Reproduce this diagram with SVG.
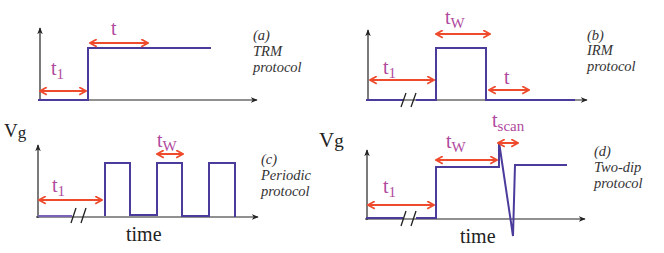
<svg xmlns="http://www.w3.org/2000/svg" width="664" height="253" viewBox="0 0 664 253">
<style>
.ax{stroke:#222;stroke-width:1.2;fill:none}
.sig{stroke:#4b3b9b;stroke-width:2;fill:none;stroke-linejoin:miter}
.sigl{stroke:#7a62b8;stroke-width:2;fill:none}
.arr{stroke:#ee4a2c;stroke-width:2;fill:none;marker-start:url(#ah);marker-end:url(#ah)}
.brk{stroke:#222;stroke-width:1.3;fill:none}
.lbl{font-family:"Liberation Serif",serif;font-size:20px;fill:#b04a9e}
.sub{font-size:15px}
.cap{font-family:"Liberation Serif",serif;font-style:italic;font-size:14.5px;fill:#333}
.big{font-family:"Liberation Serif",serif;font-size:20px;fill:#222}
</style>
<defs>
<marker id="ah" viewBox="0 0 10 10" refX="9" refY="5" markerWidth="9" markerHeight="9" markerUnits="userSpaceOnUse" orient="auto-start-reverse">
<path d="M1.5,0.8 L9,5 L1.5,9.2" fill="none" stroke="#ee4a2c" stroke-width="1.9"/>
</marker>
<marker id="axh" viewBox="0 0 10 10" refX="9" refY="5" markerWidth="7" markerHeight="7" markerUnits="userSpaceOnUse" orient="auto">
<path d="M0,1 L10,5 L0,9 L3,5 Z" fill="#222"/>
</marker>
</defs>

<g id="panel-a">
<path class="ax" d="M40,101 V28" marker-end="url(#axh)"/>
<path class="ax" d="M38,100 H257" marker-end="url(#axh)"/>
<path class="sig" d="M38,100 H88 V48 H211"/>
<text class="lbl" x="51" y="75">t<tspan class="sub" dy="4">1</tspan></text>
<text class="lbl" x="111" y="35">t</text>
<text class="cap" x="253" y="40">(a)</text>
<text class="cap" x="253" y="56">TRM</text>
<text class="cap" x="253" y="72">protocol</text>
</g>

<g id="panel-b">
<path class="ax" d="M368,101 V30" marker-end="url(#axh)"/>
<path class="ax" d="M366,100 H587" marker-end="url(#axh)"/>
<path class="sig" d="M366,100 H403 M416,100 H436 V48 H486 V100 H575"/>
<path class="brk" d="M401,107 L406,93 M411,107 L416,93"/>
<text class="lbl" x="383" y="74">t<tspan class="sub" dy="4">1</tspan></text>
<text class="lbl" x="445" y="24">t<tspan class="sub" dy="4">W</tspan></text>
<text class="lbl" x="504" y="84">t</text>
<text class="cap" x="587" y="40">(b)</text>
<text class="cap" x="587" y="55">IRM</text>
<text class="cap" x="587" y="71">protocol</text>
</g>

<g id="panel-c">
<text class="big" x="4" y="137" style="font-size:19px">V<tspan dy="1" style="font-size:17px">g</tspan></text>
<path class="ax" d="M38,218 V145" marker-end="url(#axh)"/>
<path class="ax" d="M36,217 H258" marker-end="url(#axh)"/>
<path class="sigl" d="M38,216 H72"/>
<path class="sig" d="M105,216 V163 H130 V215 H157 V163 H182 V216 H209 V163 H235 V217"/>
<path class="brk" d="M71,223 L76,208 M81,223 L86,208"/>
<text class="lbl" x="52" y="192">t<tspan class="sub" dy="4">1</tspan></text>
<text class="lbl" x="157" y="147">t<tspan class="sub" dy="4">W</tspan></text>
<text class="big" x="126" y="241">time</text>
<text class="cap" x="261" y="164">(c)</text>
<text class="cap" x="261" y="180">Periodic</text>
<text class="cap" x="261" y="196">protocol</text>
</g>

<g id="panel-d">
<text class="big" x="319" y="147" style="font-size:21px">V<tspan style="font-size:19px">g</tspan></text>
<path class="ax" d="M367,220 V150" marker-end="url(#axh)"/>
<path class="ax" d="M365,219 H585" marker-end="url(#axh)"/>
<path class="sig" d="M366,218 H403 M416,218 H436 V167 H499 L499,142 L513,236 L515,165 H567"/>
<path class="brk" d="M401,226 L406,211 M411,226 L416,211"/>
<text class="lbl" x="383" y="193">t<tspan class="sub" dy="4">1</tspan></text>
<text class="lbl" x="446" y="148">t<tspan class="sub" dy="4">W</tspan></text>
<text class="lbl" x="492" y="127">t<tspan class="sub" dy="4">scan</tspan></text>
<text class="big" x="460" y="243">time</text>
<text class="cap" x="594" y="156">(d)</text>
<text class="cap" x="594" y="172">Two-dip</text>
<text class="cap" x="594" y="188">protocol</text>
</g>

<g id="connectors">
<path class="arr" d="M40,91 H86"/>
<path class="arr" d="M90,43 H148"/>
<path class="arr" d="M370,80 H434"/>
<path class="arr" d="M436,34 H490"/>
<path class="arr" d="M489,90 H529"/>
<path class="arr" d="M39,200 H102"/>
<path class="arr" d="M157,154 H183"/>
<path class="arr" d="M368,205 H434"/>
<path class="arr" d="M436,160 H497"/>
<path class="arr" d="M498,143 H518"/>
</g>
</svg>
